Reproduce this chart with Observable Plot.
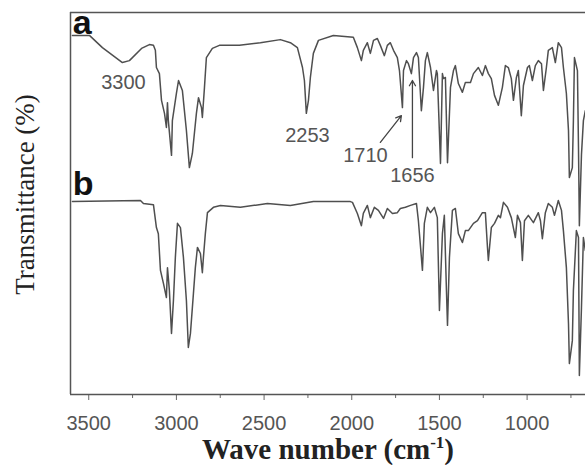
<!DOCTYPE html>
<html><head><meta charset="utf-8">
<script src="https://cdn.jsdelivr.net/npm/d3@7"></script>
<script src="https://cdn.jsdelivr.net/npm/@observablehq/plot@0.6"></script>
<style>body{margin:0;background:#fff}</style>
</head><body><div id="chart"></div>
<script>
// Spectrum a (wavenumber, cm-1) and transmittance (arbitrary %, offset)
const waveA = [3593,3496,3422,3308,3268,3199,3154,3131,3120,3114,
3097,3085,3068,3057,3051,3046,3028,3023,3000,2988,
2966,2943,2926,2909,2886,2874,2857,2852,2840,2829,
2795,2755,2641,2521,2407,2350,2310,2281,2270,2259,
2247,2236,2219,2190,2105,1991,1968,1945,1934,1911,
1894,1876,1854,1837,1814,1797,1780,1762,1740,1728,
1711,1705,1688,1677,1660,1648,1631,1620,1603,1591,
1580,1569,1551,1534,1517,1512,1494,1483,1477,1466,
1454,1437,1420,1409,1392,1369,1352,1323,1306,1278,
1255,1238,1221,1204,1186,1164,1141,1124,1107,1090,
1078,1061,1050,1033,1021,998,987,970,953,936,
918,907,890,879,856,839,822,804,793,776,
764,759,742,736,730,713,707,702,690,679,668];
const transA = [94.0,94.0,90.8,86.9,87.4,90.6,91.6,91.4,90.1,85.6,
84.0,77.0,73.6,69.9,76.4,71.7,62.6,71.7,78.8,82.2,
79.6,69.1,59.4,63.1,73.6,77.7,75.1,72.5,80.4,88.2,
90.6,91.4,91.4,92.1,92.9,92.1,90.8,85.6,82.2,73.6,
77.0,83.0,89.3,92.7,94.0,93.5,90.8,87.4,90.1,92.1,
89.3,92.7,93.2,91.4,88.7,91.4,92.1,90.1,88.2,84.8,
75.1,84.8,87.4,86.6,84.0,88.2,89.5,88.2,74.3,80.4,
87.4,89.5,85.6,79.6,84.8,84.0,60.5,84.0,82.7,83.0,
60.7,80.4,84.8,86.1,81.4,79.1,81.7,81.7,84.0,85.6,
83.5,86.1,84.0,82.7,78.3,75.7,80.4,86.1,85.6,82.7,
77.0,83.0,84.8,73.0,80.9,85.6,86.1,82.2,86.1,87.4,
86.6,79.6,85.6,90.1,90.8,86.9,92.1,90.8,85.6,78.8,
69.1,56.8,59.4,71.7,88.2,84.8,64.7,44.2,62.8,71.7,74.3];

// Spectrum b
const waveB = [3593,3205,3188,3131,3114,3103,3091,3074,3057,3051,
3040,3028,3017,3006,2994,2977,2960,2943,2932,2920,
2903,2892,2880,2863,2852,2846,2835,2823,2789,2749,
2635,2481,2350,2219,2008,1996,1968,1945,1934,1911,
1894,1871,1848,1819,1797,1768,1740,1723,1694,1665,
1631,1620,1597,1586,1569,1551,1529,1512,1500,1483,
1472,1460,1454,1443,1426,1409,1392,1369,1352,1335,
1306,1283,1255,1238,1226,1221,1204,1186,1164,1152,
1135,1112,1090,1067,1055,1038,1027,1015,993,964,
936,924,913,896,879,856,844,822,804,793,
776,764,759,742,736,719,707,702,690,679,668];
const transB = [50.5,50.8,50.0,49.7,43.7,42.1,32.5,29.1,25.4,33.2,
27.2,16.0,24.6,35.9,44.8,43.7,35.9,24.6,12.3,16.0,
26.4,33.2,38.5,36.9,31.9,35.9,42.1,47.6,49.0,49.5,
49.0,50.0,49.5,50.5,50.5,50.3,47.4,44.2,47.4,49.5,
46.3,49.0,48.2,46.1,48.7,47.4,47.6,48.7,49.0,49.5,
50.0,45.5,32.5,44.8,49.0,47.6,49.0,46.3,22.0,42.1,
46.9,27.2,18.1,35.9,48.2,48.7,42.1,39.8,42.9,42.9,
44.8,45.5,47.6,47.6,38.5,35.1,43.7,44.8,46.9,46.3,
50.3,49.0,46.3,41.1,46.9,45.0,35.1,45.5,46.9,45.0,
47.6,45.5,40.8,47.6,50.0,49.0,46.9,50.8,48.2,42.9,
33.2,18.6,8.1,14.1,27.2,42.9,41.1,5.0,22.8,41.1,37.7];

const majorTicks = [3500,3000,2500,2000,1500,1000];
const minorTicks = [3250,2750,2250,1750,1250,750];
const seriesNames = ["a","b"];
const seriesNameY = [94.5,52.1];
const peakLabels = ["3300","2253","1710","1656"];
const peakLabelX = [3302,2253,1922,1654];
const peakLabelY = [81.7,67.8,62.6,57.3];
const arrowX1 = [1837,1654], arrowY1 = [66.0,62.0], arrowX2 = [1717,1654], arrowY2 = [73.0,82.2];
const xTitle = "Wave number (cm-1)";
const yTitle = "Transmittance (%)";
const xDomain = [3604, 667];

const dataA = waveA.map((w,i)=>({wave:w, t:transA[i]}));
const dataB = waveB.map((w,i)=>({wave:w, t:transB[i]}));
const names = seriesNames.map((n,i)=>({label:n, x:xDomain[0]-13, y:seriesNameY[i]}));
const peaks = peakLabels.map((p,i)=>({text:p, x:peakLabelX[i], y:peakLabelY[i]}));
const arrows = arrowX1.map((x,i)=>({x1:x, y1:arrowY1[i], x2:arrowX2[i], y2:arrowY2[i]}));

const chart = Plot.plot({
  width:585, height:465,
  marginLeft:70, marginRight:0, marginTop:12, marginBottom:71,
  x:{domain:xDomain, label:null},
  y:{domain:[0,100], axis:null, label:null},
  style:{fontFamily:"'Liberation Sans', Arial, sans-serif", background:"#fff", color:"#555"},
  marks:[
    Plot.axisX(majorTicks,{tickSize:6, tickPadding:15, fontSize:20, tickFormat:d=>String(d), stroke:"#666", fill:"#555", label:null}),
    Plot.axisX(minorTicks,{tickSize:4, tickFormat:()=>"", stroke:"#666", label:null}),
    Plot.ruleY([0,100],{stroke:"#555", strokeWidth:1.5}),
    Plot.ruleX([xDomain[0]],{stroke:"#555", strokeWidth:1.5}),
    Plot.line(dataA,{x:"wave", y:"t", stroke:"#4f4f4f", strokeWidth:1.5}),
    Plot.line(dataB,{x:"wave", y:"t", stroke:"#4f4f4f", strokeWidth:1.5}),
    Plot.text(names,{x:"x", y:"y", text:"label", textAnchor:"start", lineAnchor:"bottom", fontSize:34, fontWeight:"bold", fill:"#111"}),
    Plot.text(peaks,{x:"x", y:"y", text:"text", fontSize:20, fill:"#555"}),
    Plot.arrow(arrows,{x1:"x1", y1:"y1", x2:"x2", y2:"y2", stroke:"#444", strokeWidth:1.3, headLength:7}),
    Plot.text([xTitle],{frameAnchor:"bottom", dy:64, lineAnchor:"bottom", textAnchor:"middle", fontSize:29, fontWeight:"bold", fontFamily:"'Liberation Serif', 'Times New Roman', serif", fill:"#222"}),
    Plot.text([yTitle],{frameAnchor:"left", rotate:-90, dx:-45, dy:-9, textAnchor:"middle", lineAnchor:"middle", fontSize:27, fontFamily:"'Liberation Serif', 'Times New Roman', serif", fill:"#222"})
  ]
});
document.getElementById("chart").append(chart);

// superscript for cm-1
d3.select(chart).selectAll("text").filter(function(){return this.textContent === xTitle;}).each(function(){
  const t = d3.select(this);
  t.text(null);
  t.append("tspan").text("Wave number (cm");
  t.append("tspan").attr("dy", -11).attr("font-size", 17).text("-1");
  t.append("tspan").attr("dy", 11).text(")");
});
</script>
</body></html>
